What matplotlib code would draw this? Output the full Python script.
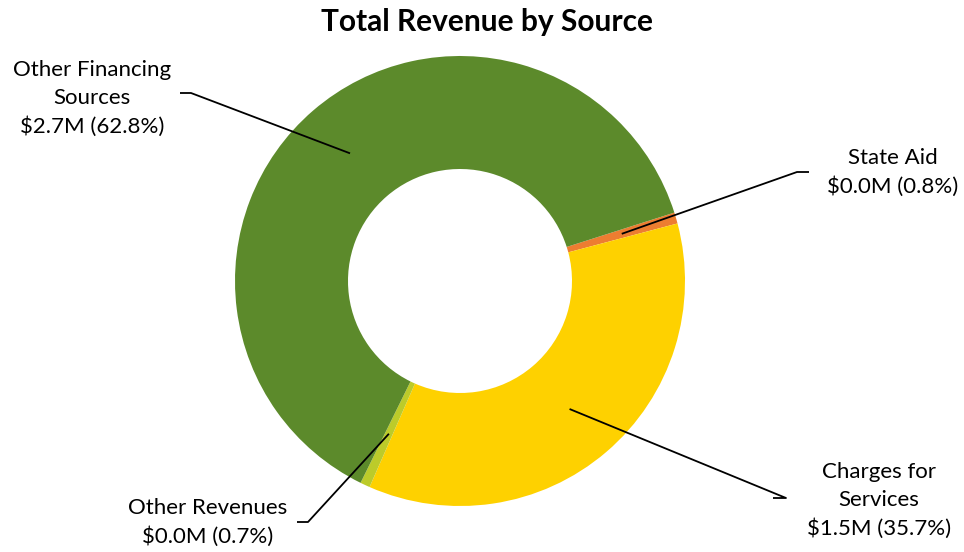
import matplotlib
matplotlib.use("Agg")
import matplotlib.pyplot as plt
import numpy as np

categories = ["State Aid", "Charges for Services", "Other Revenues", "Other Financing Sources"]
label_names = ["State Aid", "Charges for\nServices", "Other Revenues", "Other Financing\nSources"]
percents = [0.8, 35.7, 0.7, 62.8]
amounts = ["$0.0M", "$1.5M", "$0.0M", "$2.7M"]
colors = ["#ED7D31", "#FED100", "#BCCB2A", "#5C8A2B"]

W, H = 964, 552
fig = plt.figure(figsize=(W / 100, H / 100), dpi=100)
ax = fig.add_axes([0, 0, 1, 1])

cx, cy = 460, 552 - 281
R, ring = 225, 113
wedges, _ = ax.pie(percents, colors=colors, startangle=17.7, counterclock=False,
                   center=(cx, cy), radius=R,
                   wedgeprops=dict(width=ring, linewidth=0))
ax.set_xlim(0, W)
ax.set_ylim(0, H)
ax.set_aspect("equal")
ax.axis("off")

font = "Lato"
# label layout: (text center x, text center y, knee outer x, knee inner x, knee y)
layout = [
    (893, 552 - 172, 809, 797, 552 - 172),
    (879, 552 - 500, 773, 786, 552 - 498),
    (208, 552 - 522, 297, 308, 552 - 522),
    (92, 552 - 98, 180, 191, 552 - 93),
]
rmid = R - ring / 2
for w, name, amt, pct, (tx, ty, kx0, kx1, ky) in zip(wedges, label_names, amounts, percents, layout):
    ang = np.deg2rad((w.theta1 + w.theta2) / 2)
    px, py = cx + rmid * np.cos(ang), cy + rmid * np.sin(ang)
    ax.plot([kx0, kx1, px], [ky, ky, py], color="black", lw=1.3, solid_capstyle="butt")
    ax.text(tx, ty, f"{name}\n{amt} ({pct:.1f}%)", ha="center", va="center",
            fontsize=16, family=font, linespacing=1.5, color="black")

ax.text(487, 552 - 22, "Total Revenue by Source", ha="center", va="center",
        fontsize=21.5, fontweight="bold", family=font, color="black")

fig.savefig("out.png", dpi=100)
